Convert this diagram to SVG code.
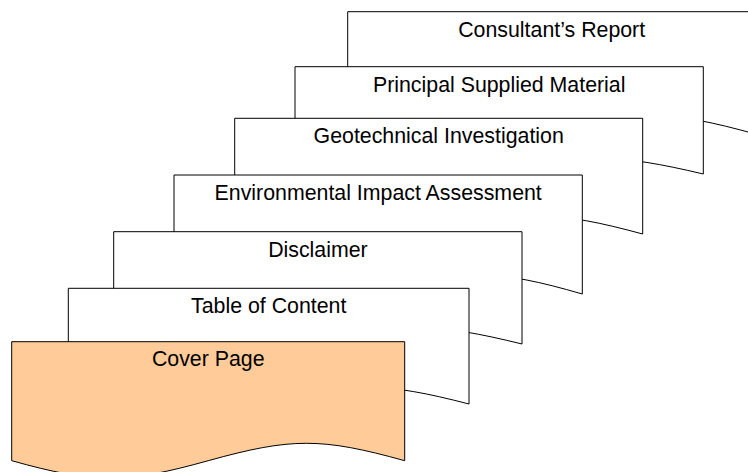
<svg xmlns="http://www.w3.org/2000/svg" width="748" height="472" viewBox="0 0 748 472">
<style>
.doc{fill:#FFFFFF;stroke:#000000;stroke-width:1}
.cover{fill:#FFCC99;stroke:#000000;stroke-width:1}
.lbl{font-family:"Liberation Sans",Arial,sans-serif;font-size:21.33px;fill:#000000;text-anchor:middle}
</style>
<rect width="748" height="472" fill="#FFFFFF"/>
<g id="consultants-report">
<path class="doc" d="M347.7,11.7 H755.7 V134.1 C669.1,110 638.3,110 551.7,134.1 C465.1,158.2 434.3,158.2 347.7,134.1 Z"/>
<text class="lbl" x="551.7" y="36.7">Consultant’s Report</text>
</g>
<g id="principal-supplied-material">
<path class="doc" d="M295,66.7 H703.3 V174 C616.7,153.5 585.8,153.5 499.2,174 C412.5,194.5 381.6,194.5 295,174 Z"/>
<text class="lbl" x="499.2" y="91.7">Principal Supplied Material</text>
</g>
<g id="geotechnical-investigation">
<path class="doc" d="M234.7,118.3 H642.7 V234 C556.1,210.5 525.3,210.5 438.7,234 C352.1,257.5 321.3,257.5 234.7,234 Z"/>
<text class="lbl" x="438.7" y="143.3">Geotechnical Investigation</text>
</g>
<g id="environmental-impact-assessment">
<path class="doc" d="M174,175 H582.3 V294 C495.7,268.9 464.8,268.9 378.2,294 C291.5,319.1 260.6,319.1 174,294 Z"/>
<text class="lbl" x="378.2" y="200">Environmental Impact Assessment</text>
</g>
<g id="disclaimer">
<path class="doc" d="M113.7,231.7 H522 V344 C435.4,322.7 404.5,322.7 317.9,344 C231.2,365.3 200.3,365.3 113.7,344 Z"/>
<text class="lbl" x="317.9" y="256.7">Disclaimer</text>
</g>
<g id="table-of-content">
<path class="doc" d="M68.3,288.3 H469 V404 C384,382 353.7,382 268.7,404 C183.6,426 153.3,426 68.3,404 Z"/>
<text class="lbl" x="268.7" y="313.3">Table of Content</text>
</g>
<g id="cover-page">
<path class="cover" d="M11.7,341.7 H404.7 V460.7 C321.3,437.5 291.6,437.5 208.2,460.7 C124.8,483.9 95.1,483.9 11.7,460.7 Z"/>
<text class="lbl" x="208.2" y="366">Cover Page</text>
</g>
<g id="connectors"/>
</svg>
